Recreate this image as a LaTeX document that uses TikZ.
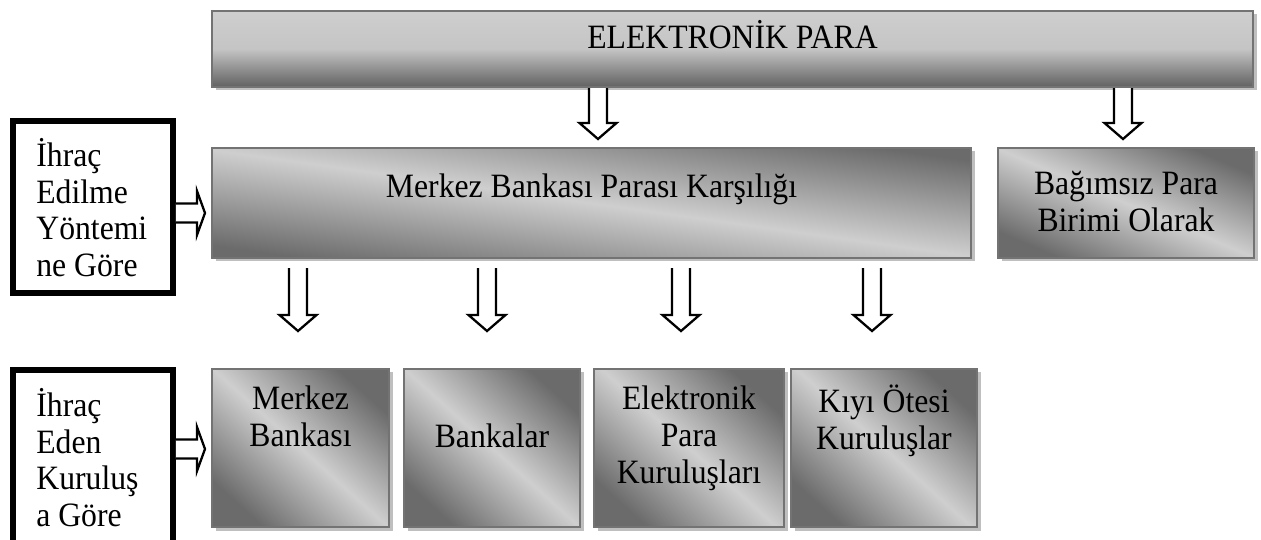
\documentclass[tikz,border=0pt]{standalone}
\usepackage{fontspec}
\setmainfont{Liberation Serif}[FakeStretch=0.93]
\usetikzlibrary{calc, fit, shadows}

\tikzset{
  panel/.style={draw=black!55, line width=1.2pt, inner sep=0pt,
    drop shadow={shadow xshift=0.07cm, shadow yshift=-0.07cm, fill=black!25, opacity=1}},
  diag/.style={panel, top color=black!58, bottom color=black!58, middle color=black!19, shading angle=#1},
  diag/.default=-42,
  vert/.style={panel, top color=black!19, bottom color=black!62, middle color=black!23},
  sidebox/.style={draw=black, line width=3.4pt, fill=white, inner sep=0pt},
  bigfont/.style={font=\fontsize{19.4}{20.8}\selectfont},
  txt/.style={bigfont, inner sep=0pt, align=center, execute at begin node=\strut},
  blockarrow/.style={draw=black, line width=1.3pt, fill=white, line join=miter},
}

% block arrows: start, tip
\newcommand{\blockdown}[2]{%
  \filldraw[blockarrow] ($(#1)+(-9,0)$) -- ($(#2)+(-9,-16)$) -- ($(#2)+(-18.5,-16)$) -- (#2)
    -- ($(#2)+(18.5,-16)$) -- ($(#2)+(9,-16)$) -- ($(#1)+(9,0)$);}
\newcommand{\blockright}[2]{%
  \filldraw[blockarrow] ($(#1)+(0,-9.5)$) -- ($(#2)+(-8,-9.5)$) -- ($(#2)+(-8,-22)$) -- (#2)
    -- ($(#2)+(-8,22)$) -- ($(#2)+(-8,9.5)$) -- ($(#1)+(0,9.5)$);}

\begin{document}
\begin{tikzpicture}[x=0.02cm, y=-0.02cm]
\useasboundingbox (0,0) rectangle (1261,540);
% Top box
\node[vert, fit={(212,11) (1253,87)}, bigfont] (ep) {ELEKTRONİK PARA};
% Second row
\node[diag=-8, fit={(212,148) (971,258)}] (mpk) {};
\node[txt, anchor=north] (mpk-txt) at ($(mpk.north)+(0,25)$) {Merkez Bankası Parası Karşılığı};
\node[diag=-23, fit={(998,148) (1254,258)}] (bpb) {};
\node[txt, anchor=north] (bpb-txt) at ($(bpb.north)+(0,24)$) {Bağımsız Para\\Birimi Olarak};
% Bottom row
\node[diag, fit={(212,369) (389,527)}] (mb) {};
\node[txt, anchor=north] (mb-txt) at ($(mb.north)+(0,18)$) {Merkez\\Bankası};
\node[diag, fit={(404,369) (580,527)}] (bk) {};
\node[txt, anchor=north] (bk-txt) at ($(bk.north)+(0,54)$) {Bankalar};
\node[diag, fit={(594,369) (784,527)}] (epk) {};
\node[txt, anchor=north] (epk-txt) at ($(epk.north)+(0,18)$) {Elektronik\\Para\\Kuruluşları};
\node[diag, fit={(791,369) (977,527)}] (kok) {};
\node[txt, anchor=north] (kok-txt) at ($(kok.north)+(0,17)$) {Kıyı Ötesi\\Kuruluşlar};
% Side boxes
\node[sidebox, fit={(13,121) (173,293)}] (ihy) {};
\node[txt, align=left, anchor=north west] (ihy-txt) at ($(ihy.north west)+(26,20)$) {İhraç\\Edilme\\Yöntemi\\ne Göre};
\node[sidebox, fit={(13,370) (173,580)}] (ihk) {};
\node[txt, align=left, anchor=north west] (ihk-txt) at ($(ihk.north west)+(26,21)$) {İhraç\\Eden\\Kuruluş\\a Göre};
% Arrows
\coordinate (d0) at (598,139);
\coordinate (d1) at (1123,139);
\blockdown{ep.south -| d0}{d0}
\blockdown{ep.south -| d1}{d1}
\foreach \n/\x in {2/298, 3/487, 4/681, 5/872} {
  \coordinate (d\n) at (\x,331);
  \coordinate (s\n) at ($(mpk.south -| d\n)+(0,9)$);
  \blockdown{s\n}{d\n}
}
\coordinate (r1) at (205,213);
\coordinate (r2) at (205,449);
\blockright{ihy.east |- r1}{r1}
\blockright{ihk.east |- r2}{r2}
\end{tikzpicture}
\end{document}
